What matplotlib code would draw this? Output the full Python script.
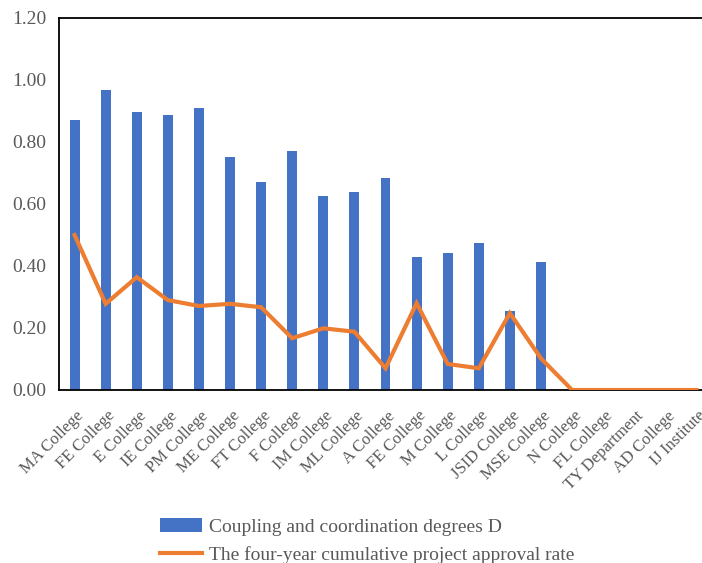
import matplotlib.pyplot as plt
import matplotlib.transforms as mtransforms
from matplotlib.lines import Line2D
from matplotlib.patches import Patch
import numpy as np

plt.rcParams['font.family'] = ['Liberation Serif', 'DejaVu Serif']

colleges = ['MA College', 'FE College', 'E College', 'IE College', 'PM College',
            'ME College', 'FT College', 'F College', 'IM College', 'ML College',
            'A College', 'FE College', 'M College', 'L College', 'JSID College',
            'MSE College', 'N College', 'FL College', 'TY Department', 'AD College',
            'IJ Institute']
coupling_d = [0.872, 0.969, 0.897, 0.888, 0.910, 0.752, 0.671, 0.772, 0.626, 0.639,
              0.684, 0.429, 0.442, 0.475, 0.255, 0.413, 0, 0, 0, 0, 0]
approval_rate = [0.500, 0.278, 0.364, 0.290, 0.271, 0.278, 0.267, 0.167, 0.199, 0.188,
                 0.070, 0.280, 0.084, 0.070, 0.248, 0.102, 0, 0, 0, 0, 0]

blue = '#4472C4'
orange = '#ED7D31'
grey = '#595959'

fig = plt.figure(figsize=(7.02, 5.63), dpi=100)
ax = fig.add_axes([59/702, 1-390/563, (712-59)/702, (390-18)/563])

x = np.arange(len(colleges))
ax.bar(x, coupling_d, width=0.32, color=blue, zorder=2)
ax.plot(x, approval_rate, color=orange, linewidth=3, solid_joinstyle='miter', zorder=3)

ax.set_xlim(-0.5, len(colleges) - 0.5)
ax.set_ylim(0, 1.2)
yt = np.arange(0, 1.21, 0.2)
ax.set_yticks(yt)
ax.set_yticklabels(['%.2f' % v for v in yt], fontsize=14, color=grey)
ax.set_xticks(x)
ax.set_xticklabels(colleges, rotation=45, ha='right', va='center',
                   rotation_mode='anchor', fontsize=12, color=grey)
ax.tick_params(length=0, axis='y', pad=9)
ax.tick_params(length=0, axis='x', pad=17)
# nudge the slanted labels a little to the right, like the original
shift = mtransforms.ScaledTranslation(7/100, 0, fig.dpi_scale_trans)
for lab in ax.get_xticklabels():
    lab.set_transform(lab.get_transform() + shift)
for s in ax.spines.values():
    s.set_color('black')
    s.set_linewidth(1.3)

handles = [Patch(facecolor=blue, edgecolor='none'),
           Line2D([0], [0], color=orange, linewidth=3)]
labels = ['Coupling and coordination degrees D',
          'The four-year cumulative project approval rate']
fig.legend(handles, labels, loc='upper left', bbox_to_anchor=(142/702, 1-500/563),
           frameon=False, fontsize=14, labelcolor=grey, handlelength=2.2,
           handleheight=0.8, handletextpad=0.36, labelspacing=0.5)

fig.savefig('out.png', dpi=100)
